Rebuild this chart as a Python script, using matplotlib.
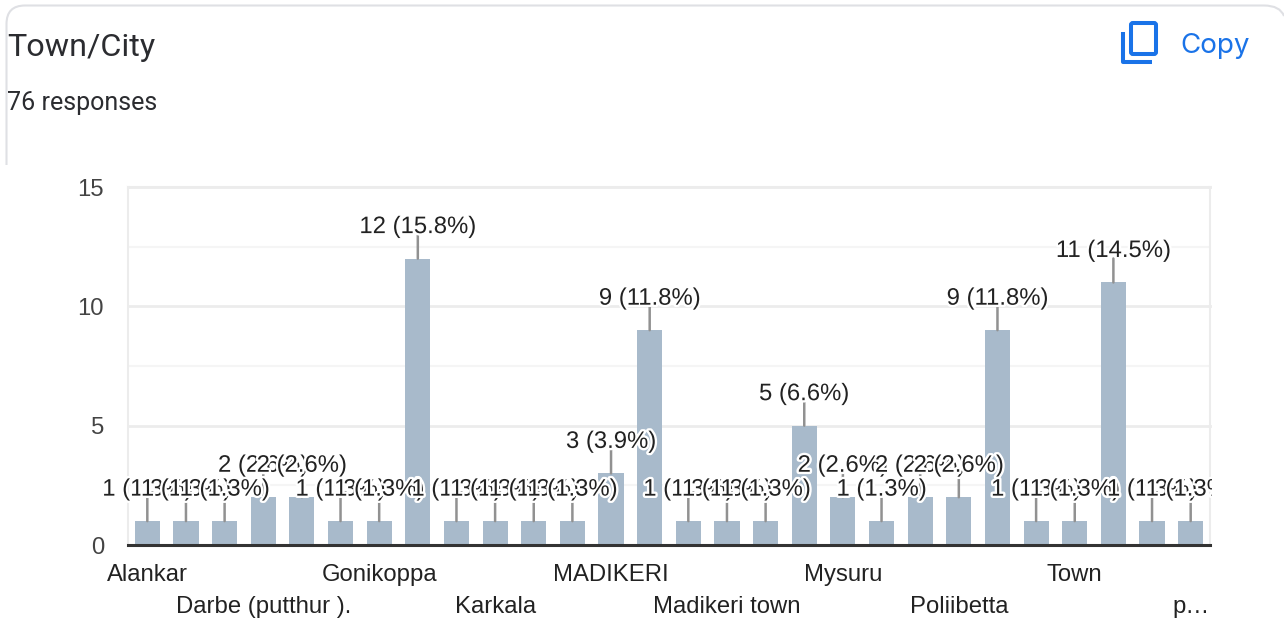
import matplotlib
matplotlib.use('Agg')
import matplotlib.pyplot as plt
import matplotlib.patheffects as pe
from matplotlib.patches import FancyBboxPatch, PathPatch
from matplotlib.path import Path
from matplotlib.transforms import Bbox

# one entry per answer, only every third name fits on the axis
values = [1, 1, 1, 2, 2, 1, 1, 12, 1, 1, 1, 1, 3, 9, 1, 1, 1, 5, 2, 1, 2, 2, 9, 1, 1, 11, 1, 1]
percents = ['1.3', '1.3', '1.3', '2.6', '2.6', '1.3', '1.3', '15.8', '1.3', '1.3', '1.3', '1.3', '3.9', '11.8',
            '1.3', '1.3', '1.3', '6.6', '2.6', '1.3', '2.6', '2.6', '11.8', '1.3', '1.3', '14.5', '1.3', '1.3']
tick_pos = [0, 3, 6, 9, 12, 15, 18, 21, 24, 27]
tick_names = ['Alankar', 'Darbe (putthur ).', 'Gonikoppa', 'Karkala', 'MADIKERI',
              'Madikeri town', 'Mysuru', 'Poliibetta', 'Town', 'p…']
y_major = [0, 5, 10, 15]
y_minor = [2.5, 7.5, 12.5]

W, H = 1284, 643
PX = 72 / 100

plt.rcParams['font.family'] = ['Liberation Sans', 'DejaVu Sans']
fig = plt.figure(figsize=(W / 100, H / 100), dpi=100)

# page overlay in pixel coords: card border, header, copy button
bg = fig.add_axes([0, 0, 1, 1], zorder=0)
bg.set_xlim(0, W)
bg.set_ylim(H, 0)
bg.axis('off')
border = '#dfe0e4'
card = Path([(6.5, 165), (6.5, 24), (6.5, 5.5), (25, 5.5), (1264, 5.5), (1280, 5.5), (1284, 16)],
            [Path.MOVETO, Path.LINETO, Path.CURVE3, Path.CURVE3, Path.LINETO, Path.CURVE3, Path.CURVE3])
bg.add_patch(PathPatch(card, fc='none', ec=border, lw=1.5))
bg.text(7, 47, 'Town/City', fontsize=23.3, family='Roboto', color='#2b2c30', va='center')
bg.text(7, 103, '76 responses', fontsize=18, family='Roboto', color='#2b2c30', va='center')
blue = '#1a73e8'
bg.text(1180, 46, 'Copy', fontsize=20, family='Inter', color=blue, va='center')
bg.add_patch(FancyBboxPatch((1131, 23), 25, 31, boxstyle='round,pad=0,rounding_size=2',
                            fc='none', ec=blue, lw=2.9))
bg.plot([1122.5, 1122.5, 1152], [32, 61.5, 61.5], color=blue, lw=2.9, solid_capstyle='butt')

ax = fig.add_axes([128 / W, 1 - 545 / H, (1210 - 128) / W, (545 - 187) / H], zorder=1)
ax.patch.set_alpha(0)
x = list(range(len(values)))
ax.bar(x, values, width=0.65, color='#a8bacb', zorder=2)
ax.set_xlim(-0.5, len(values) - 0.5)
ax.set_ylim(0, 15)

for v in y_major:
    ax.axhline(v, color='#ececec', lw=2, zorder=1, clip_on=False)
for v in y_minor:
    ax.axhline(v, color='#f5f5f5', lw=1.5, zorder=1)

for s in ['left', 'right', 'top']:
    ax.spines[s].set_color('#ececec')
    ax.spines[s].set_linewidth(1.5)
ax.spines['bottom'].set_color('#333333')
ax.spines['bottom'].set_linewidth(2.2)
ax.spines['bottom'].set_zorder(5)

ax.set_yticks(y_major)
ax.tick_params(axis='y', length=0, pad=24 * PX, labelsize=17.2, labelcolor='#444444')
ax.set_xticks(tick_pos)
ax.set_xticklabels(tick_names)
ax.tick_params(axis='x', length=0, labelsize=17.2, labelcolor='#222222')
for n, tick in enumerate(ax.xaxis.get_major_ticks()):
    tick.set_pad((19 if n % 2 == 0 else 51) * PX)

# leader lines first, then labels left to right so later halos eat earlier ones
for i, v in zip(x, values):
    ax.annotate('', xy=(i, v), xytext=(0, 24 * PX), textcoords='offset points', zorder=3,
                arrowprops=dict(arrowstyle='-', color='#919191', lw=1.8, shrinkA=0, shrinkB=0))
# labels only get cut at the right edge of the chart
right_clip = Bbox([[0, 0], [1212, H]])
for i, v, p in zip(x, values, percents):
    t = ax.annotate(f'{v} ({p}%)', xy=(i, v), xytext=(0, 31.5 * PX), textcoords='offset points',
                    ha='center', va='center', fontsize=17.2, color='#222222', zorder=4,
                    annotation_clip=False, path_effects=[pe.withStroke(linewidth=3.4, foreground='white')])
    t.set_clip_on(True)
    t.set_clip_box(right_clip)

fig.savefig('out.png', dpi=100)
